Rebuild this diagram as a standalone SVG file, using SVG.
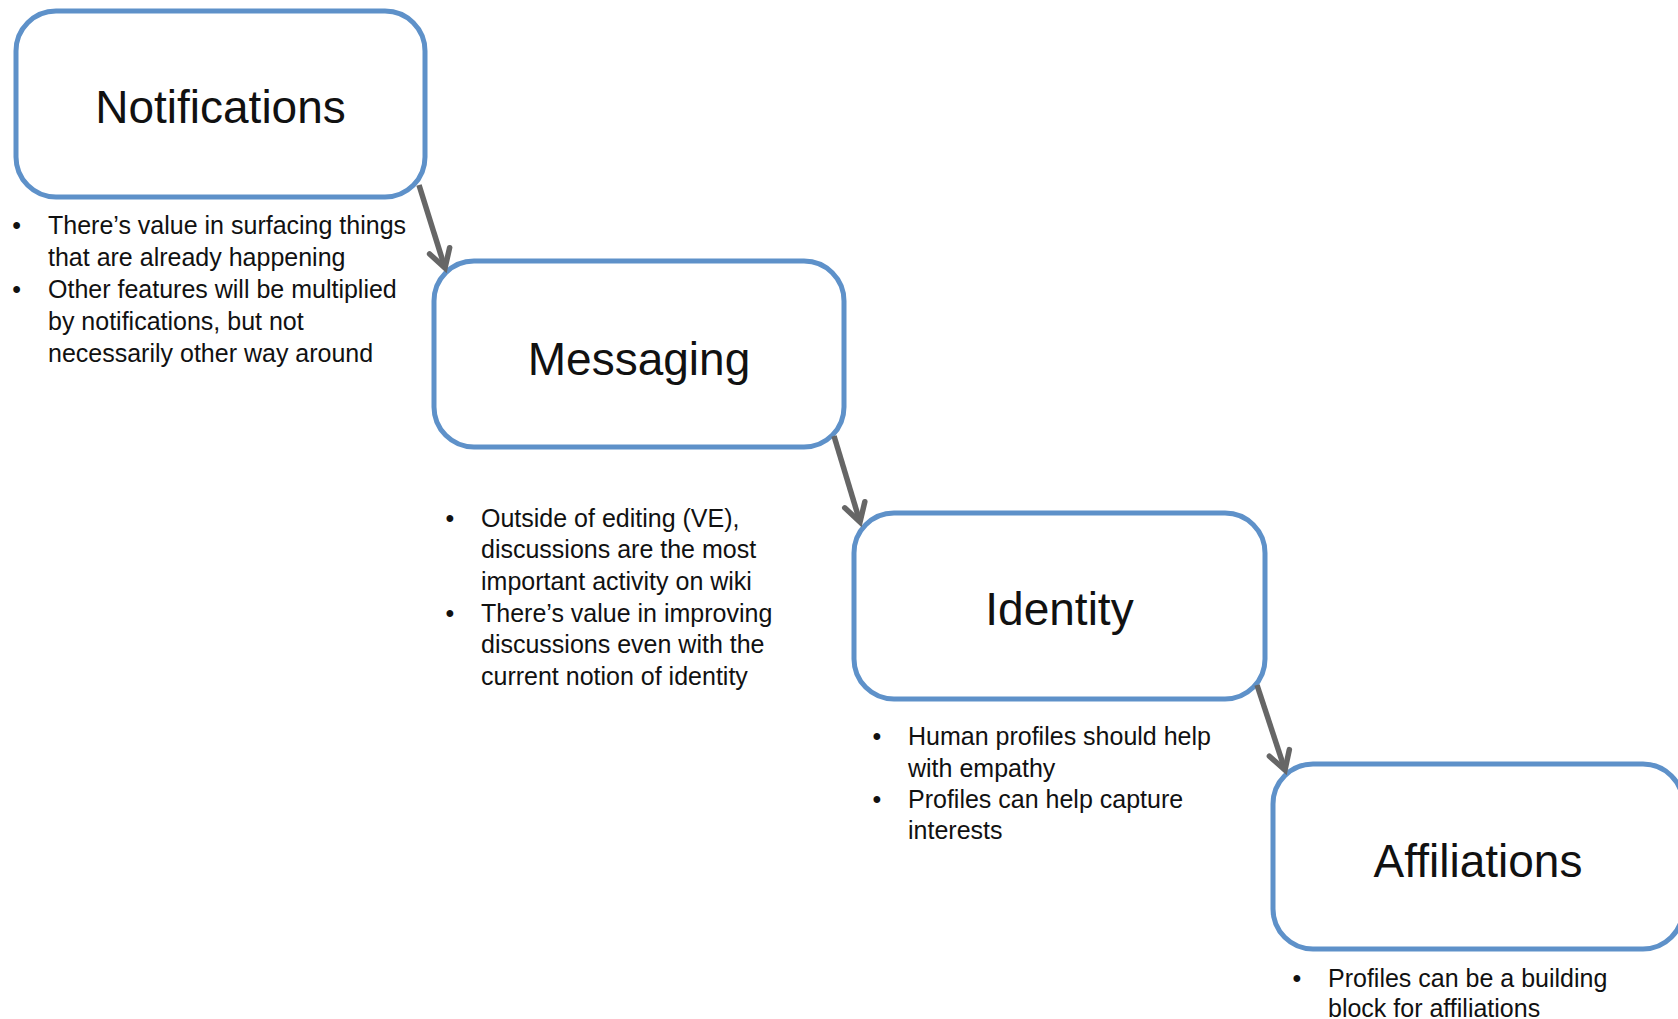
<svg xmlns="http://www.w3.org/2000/svg" width="1678" height="1019" viewBox="0 0 1678 1019">
<defs>
<style>
.box{fill:#fff;stroke:#5e91c9;stroke-width:5}
.title{font-family:"Liberation Sans",Arial,sans-serif;font-size:46px;fill:#111;text-anchor:middle}
.txt{font-family:"Liberation Sans",Arial,sans-serif;font-size:25px;fill:#111}
.bul{text-anchor:middle}
.conn{stroke:#666;stroke-width:5.5;fill:none}
</style>
<marker id="arr" markerUnits="userSpaceOnUse" viewBox="-24 -15 28 30" markerWidth="28" markerHeight="30" refX="0" refY="0" orient="auto" overflow="visible">
<path d="M-18,-10.5 L0,0 L-18,10.5" fill="none" stroke="#666" stroke-width="5.5" stroke-linejoin="miter" stroke-linecap="round"/>
</marker>
</defs>
<rect width="1678" height="1019" fill="#fff"/>
<g id="notifications">
<rect class="box" x="16" y="11" width="409" height="186" rx="40"/>
<text class="title" x="220.5" y="123">Notifications</text>
<text class="txt bul" x="16.7" y="234">•</text>
<text class="txt" x="48" y="234">There’s value in surfacing things</text>
<text class="txt" x="48" y="266">that are already happening</text>
<text class="txt bul" x="16.7" y="298">•</text>
<text class="txt" x="48" y="298">Other features will be multiplied</text>
<text class="txt" x="48" y="329.5">by notifications, but not</text>
<text class="txt" x="48" y="361.5">necessarily other way around</text>
</g>
<g id="messaging">
<rect class="box" x="434" y="261" width="410" height="186" rx="40"/>
<text class="title" x="639" y="375">Messaging</text>
<text class="txt bul" x="450" y="526.7">•</text>
<text class="txt" x="481" y="526.7">Outside of editing (VE),</text>
<text class="txt" x="481" y="558.3">discussions are the most</text>
<text class="txt" x="481" y="590">important activity on wiki</text>
<text class="txt bul" x="450" y="621.7">•</text>
<text class="txt" x="481" y="621.7">There’s value in improving</text>
<text class="txt" x="481" y="652.7">discussions even with the</text>
<text class="txt" x="481" y="685">current notion of identity</text>
</g>
<g id="identity">
<rect class="box" x="854" y="513" width="411" height="186" rx="40"/>
<text class="title" x="1059.5" y="625">Identity</text>
<text class="txt bul" x="877" y="745">•</text>
<text class="txt" x="908" y="745">Human profiles should help</text>
<text class="txt" x="908" y="776.7">with empathy</text>
<text class="txt bul" x="877" y="808.3">•</text>
<text class="txt" x="908" y="808.3">Profiles can help capture</text>
<text class="txt" x="908" y="839.3">interests</text>
</g>
<g id="affiliations">
<rect class="box" x="1273" y="764" width="410" height="185" rx="40"/>
<text class="title" x="1478" y="877">Affiliations</text>
<text class="txt bul" x="1297" y="986.7">•</text>
<text class="txt" x="1328" y="986.7">Profiles can be a building</text>
<text class="txt" x="1328" y="1016.7">block for affiliations</text>
</g>
<g id="connectors">
<line class="conn" x1="419" y1="185" x2="445" y2="268" marker-end="url(#arr)"/>
<line class="conn" x1="834" y1="436" x2="860" y2="522" marker-end="url(#arr)"/>
<line class="conn" x1="1257" y1="685" x2="1285" y2="770" marker-end="url(#arr)"/>
</g>
</svg>
